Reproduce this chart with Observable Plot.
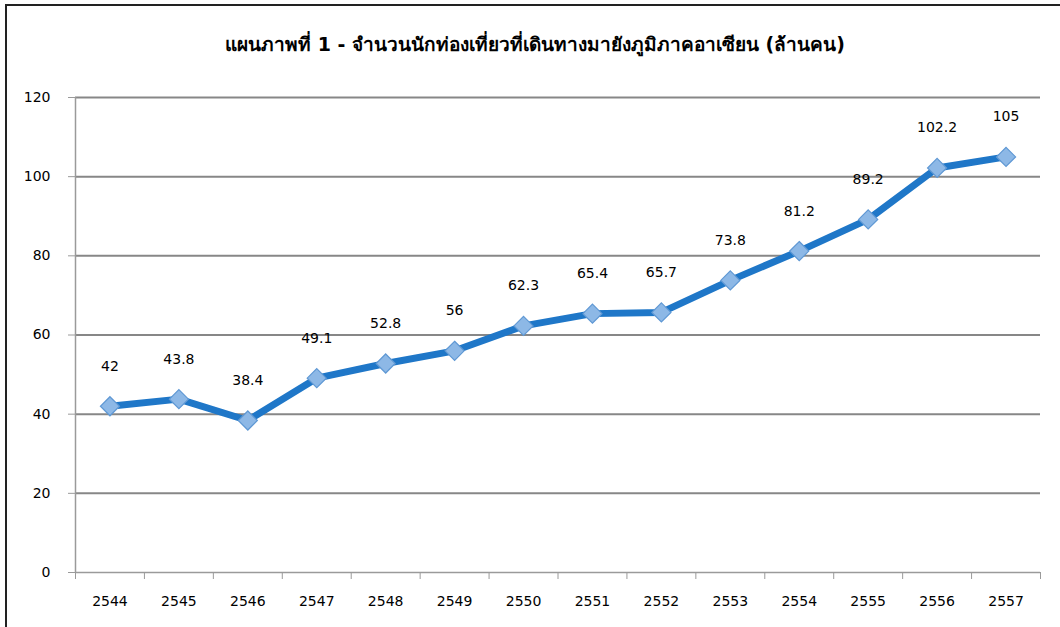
<!DOCTYPE html>
<html>
<head>
<meta charset="utf-8">
<script src="https://cdn.jsdelivr.net/npm/d3@7"></script>
<script src="https://cdn.jsdelivr.net/npm/@observablehq/plot@0.6"></script>
<style>
  html, body { margin: 0; padding: 0; background: #fff; }
  #wrap { position: relative; width: 1060px; height: 627px; overflow: hidden; }
  #frame { position: absolute; left: 5px; top: 4px; width: 1100px; height: 700px;
           border-left: 2px solid #222; border-top: 2px solid #222; box-sizing: border-box; }
  #title { position: absolute; left: 0; top: 0; width: 1070px; height: 70px; line-height: 88px;
           text-align: center; font-family: Tahoma, "DejaVu Sans", sans-serif; font-weight: bold;
           font-size: 19px; color: #000; }
  #chart { position: absolute; left: 0; top: 70px; }
</style>
</head>
<body>
<div id="wrap">
  <div id="frame"></div>
  <div id="title">แผนภาพที่ 1 - จำนวนนักท่องเที่ยวที่เดินทางมายังภูมิภาคอาเซียน (ล้านคน)</div>
  <div id="chart"></div>
</div>
<script>
const years = [2544, 2545, 2546, 2547, 2548, 2549, 2550, 2551, 2552, 2553, 2554, 2555, 2556, 2557];
const tourists = [42, 43.8, 38.4, 49.1, 52.8, 56, 62.3, 65.4, 65.7, 73.8, 81.2, 89.2, 102.2, 105];
const yTicks = [0, 20, 40, 60, 80, 100, 120];

const data = years.map((y, i) => ({year: y, value: tourists[i]}));
const bounds = years.map(y => y - 0.5).concat([years[years.length - 1] + 0.5]);

const font = "'DejaVu Sans', Tahoma, sans-serif";
const chart = Plot.plot({
  width: 1060,
  height: 557,
  marginTop: 27,
  marginBottom: 55,
  marginLeft: 75,
  marginRight: 20,
  style: {fontFamily: font, fontSize: "14px", color: "#000", background: "transparent"},
  x: {type: "linear", domain: [bounds[0], bounds[bounds.length - 1]]},
  y: {domain: [0, 120]},
  marks: [
    Plot.gridY(yTicks.filter(d => d > 0), {stroke: "#878787", strokeOpacity: 1, strokeWidth: 2}),
    Plot.ruleY([0], {stroke: "#9a9a9a", strokeWidth: 1.5}),
    Plot.ruleX([bounds[0]], {y1: 0, y2: 120, stroke: "#9a9a9a", strokeWidth: 1.5}),
    Plot.axisY(yTicks, {tickSize: 7, tickPadding: 18, stroke: "#9a9a9a", fill: "#000", label: null, fontSize: 14}),
    Plot.axisX(bounds, {tickSize: 7, tickFormat: () => "", stroke: "#9a9a9a", label: null}),
    Plot.axisX(years, {tickSize: 0, tickPadding: 24, tickFormat: d => String(d), fill: "#000", label: null, fontSize: 14}),
    Plot.line(data, {x: "year", y: "value", stroke: "#1f77c8", strokeWidth: 7, strokeLinejoin: "round"}),
    Plot.dot(data, {x: "year", y: "value", symbol: "diamond2", r: 8.6, fill: "#8db8e6", stroke: "#5f98d4", strokeWidth: 1.2}),
    Plot.text(data, {x: "year", y: "value", text: d => String(d.value), dy: -40, fontSize: 14, fill: "#000"})
  ]
});
document.getElementById("chart").appendChild(chart);
</script>
</body>
</html>
